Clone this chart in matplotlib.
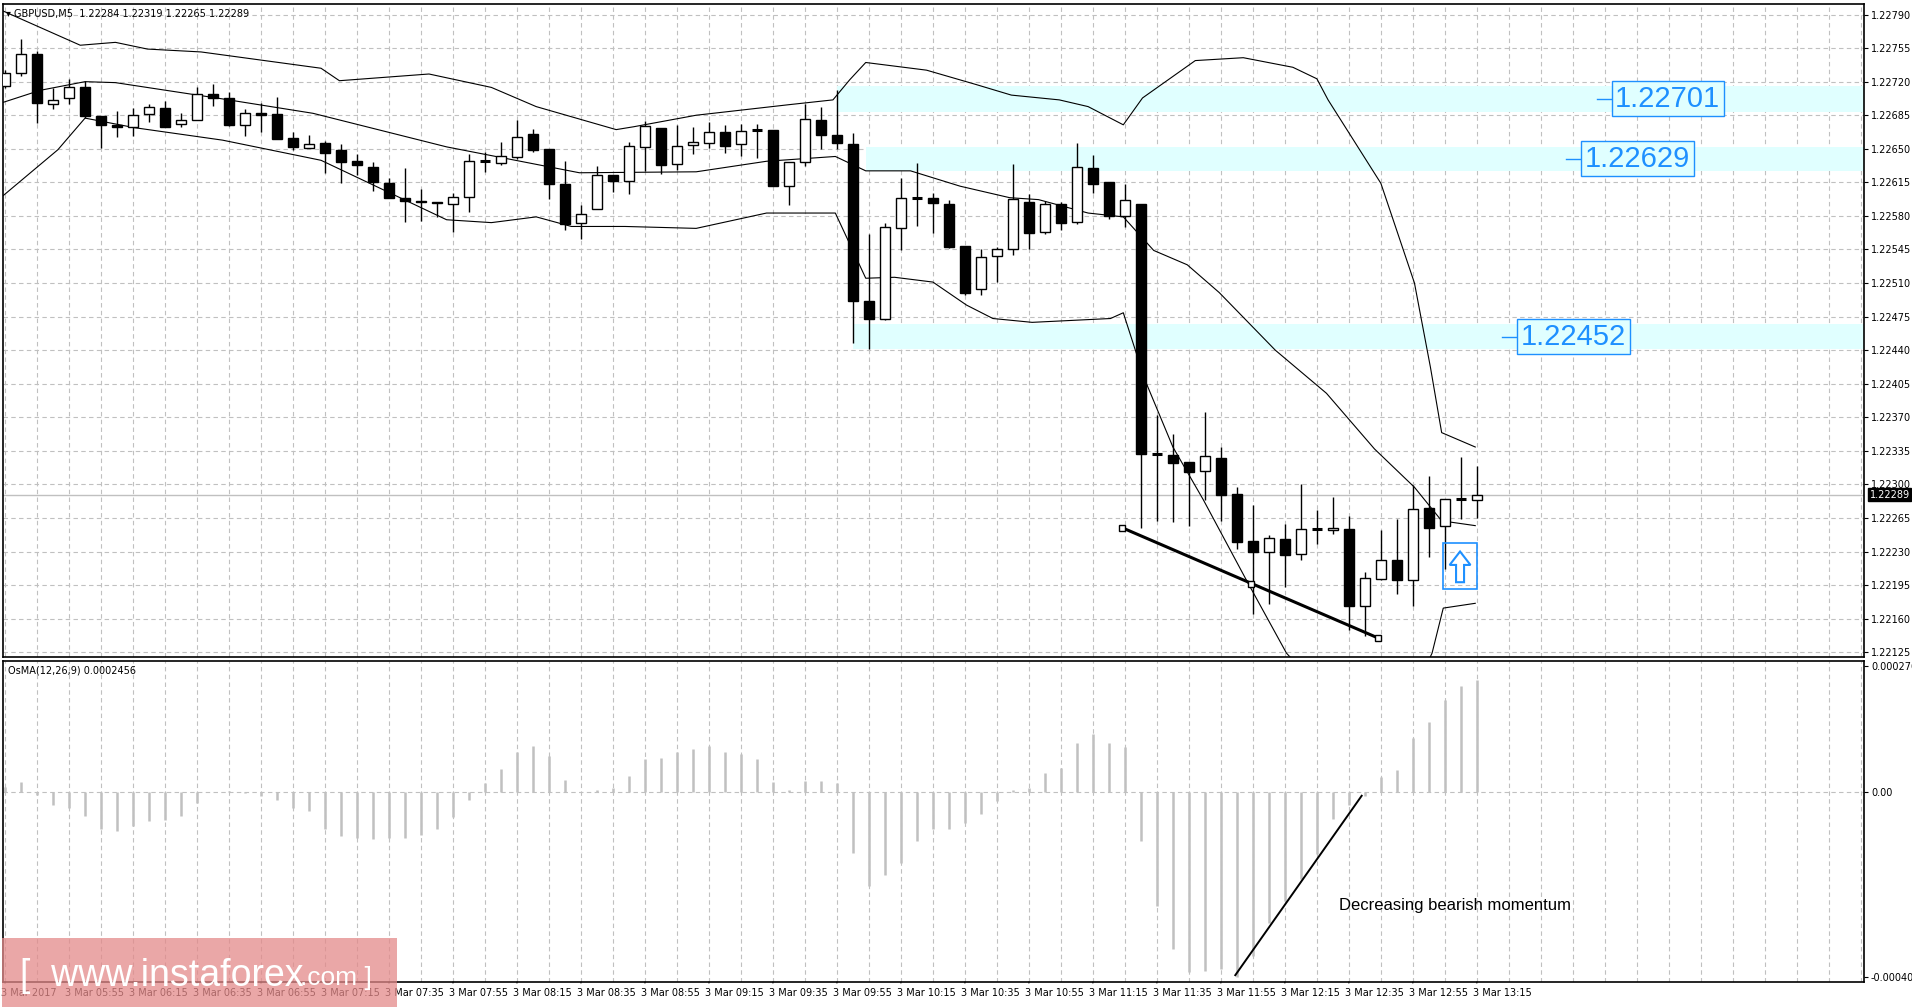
import numpy as np
import matplotlib
matplotlib.use("Agg")
import matplotlib.pyplot as plt
from matplotlib.patches import Rectangle, FancyArrow

# ---- candles (GBPUSD M5) ----
opens = [1.22715, 1.22729, 1.22749, 1.22697, 1.22703, 1.22714, 1.22684, 1.22675, 1.22673, 1.22686,
         1.22693, 1.22676, 1.22680, 1.22707, 1.22703, 1.22675, 1.22687, 1.22686, 1.22661, 1.22651,
         1.22656, 1.22649, 1.22637, 1.22631, 1.22614, 1.22599, 1.22596, 1.22595, 1.22592, 1.22600,
         1.22637, 1.22635, 1.22641, 1.22665, 1.22650, 1.22613, 1.22573, 1.22587, 1.22623, 1.22616,
         1.22652, 1.22672, 1.22634, 1.22654, 1.22656, 1.22667, 1.22655, 1.22670, 1.22670, 1.22611,
         1.22636, 1.22680, 1.22664, 1.22655, 1.22491, 1.22473, 1.22567, 1.22599, 1.22599, 1.22592,
         1.22549, 1.22504, 1.22538, 1.22545, 1.22595, 1.22563, 1.22592, 1.22574, 1.22630, 1.22615,
         1.22580, 1.22592, 1.22332, 1.22331, 1.22323, 1.22314, 1.22328, 1.22290, 1.22241, 1.22230,
         1.22243, 1.22227, 1.22253, 1.22252, 1.22254, 1.22173, 1.22201, 1.22221, 1.22200, 1.22275,
         1.22257, 1.22285, 1.22284]
highs = [1.22732, 1.22764, 1.22752, 1.22713, 1.22723, 1.22721, 1.22684, 1.22689, 1.22693, 1.22697,
         1.22700, 1.22687, 1.22714, 1.22718, 1.22709, 1.22691, 1.22698, 1.22704, 1.22667, 1.22664,
         1.22658, 1.22655, 1.22645, 1.22636, 1.22620, 1.22630, 1.22608, 1.22595, 1.22604, 1.22645,
         1.22647, 1.22657, 1.22680, 1.22671, 1.22650, 1.22637, 1.22591, 1.22632, 1.22623, 1.22657,
         1.22679, 1.22672, 1.22675, 1.22673, 1.22678, 1.22675, 1.22676, 1.22676, 1.22670, 1.22636,
         1.22697, 1.22694, 1.22711, 1.22666, 1.22561, 1.22573, 1.22620, 1.22635, 1.22604, 1.22597,
         1.22549, 1.22546, 1.22548, 1.22634, 1.22603, 1.22596, 1.22595, 1.22656, 1.22644, 1.22615,
         1.22613, 1.22592, 1.22372, 1.22353, 1.22323, 1.22376, 1.22339, 1.22297, 1.22279, 1.22247,
         1.22259, 1.22300, 1.22273, 1.22287, 1.22267, 1.22209, 1.22252, 1.22264, 1.22299, 1.22309,
         1.22285, 1.22329, 1.22319]
lows = [1.22713, 1.22726, 1.22677, 1.22691, 1.22697, 1.22682, 1.22651, 1.22662, 1.22663, 1.22678,
        1.22673, 1.22673, 1.22680, 1.22695, 1.22674, 1.22663, 1.22668, 1.22660, 1.22649, 1.22651,
        1.22625, 1.22614, 1.22623, 1.22606, 1.22599, 1.22574, 1.22575, 1.22579, 1.22563, 1.22584,
        1.22626, 1.22633, 1.22639, 1.22647, 1.22598, 1.22565, 1.22556, 1.22587, 1.22605, 1.22603,
        1.22627, 1.22624, 1.22628, 1.22645, 1.22651, 1.22646, 1.22642, 1.22640, 1.22611, 1.22591,
        1.22632, 1.22650, 1.22650, 1.22447, 1.22441, 1.22471, 1.22544, 1.22569, 1.22562, 1.22547,
        1.22498, 1.22498, 1.22511, 1.22539, 1.22545, 1.22561, 1.22565, 1.22572, 1.22604, 1.22577,
        1.22568, 1.22255, 1.22262, 1.22261, 1.22257, 1.22284, 1.22262, 1.22233, 1.22165, 1.22175,
        1.22193, 1.22221, 1.22238, 1.22248, 1.22148, 1.22142, 1.22200, 1.22186, 1.22173, 1.22224,
        1.22212, 1.22264, 1.22265]
closes = [1.22729, 1.22749, 1.22698, 1.22701, 1.22714, 1.22684, 1.22675, 1.22673, 1.22685, 1.22694,
          1.22673, 1.22680, 1.22707, 1.22703, 1.22675, 1.22687, 1.22685, 1.22660, 1.22652, 1.22655,
          1.22646, 1.22636, 1.22633, 1.22615, 1.22599, 1.22596, 1.22594, 1.22593, 1.22600, 1.22637,
          1.22637, 1.22642, 1.22662, 1.22649, 1.22613, 1.22572, 1.22582, 1.22623, 1.22616, 1.22653,
          1.22674, 1.22633, 1.22653, 1.22657, 1.22667, 1.22653, 1.22669, 1.22670, 1.22611, 1.22636,
          1.22681, 1.22664, 1.22656, 1.22491, 1.22473, 1.22568, 1.22599, 1.22599, 1.22593, 1.22548,
          1.22500, 1.22537, 1.22545, 1.22598, 1.22562, 1.22592, 1.22573, 1.22631, 1.22613, 1.22580,
          1.22597, 1.22332, 1.22332, 1.22322, 1.22313, 1.22330, 1.22289, 1.22240, 1.22230, 1.22244,
          1.22226, 1.22254, 1.22253, 1.22255, 1.22173, 1.22202, 1.22221, 1.22200, 1.22274, 1.22255,
          1.22285, 1.22284, 1.22289]

# ---- Bollinger bands (read as polylines) ----
upper_x = [-0.3, 4.7, 6.9, 8.9, 12.25, 19.75, 20.9, 26.5, 30.4, 33.2, 38.2, 39.3, 43.2, 49.0, 51.75,
           52.8, 53.8, 57.6, 60.7, 62.9, 65.9, 67.7, 69.9, 71.1, 74.4, 77.4, 80.5, 82.0, 82.7, 86.0,
           88.1, 89.1, 89.8, 91.9]
upper_y = [1.22795, 1.22758, 1.22761, 1.22754, 1.22751, 1.22734, 1.22721, 1.22728, 1.22714, 1.22694,
           1.22670, 1.22673, 1.22685, 1.22696, 1.22701, 1.22722, 1.22740, 1.22732, 1.22717, 1.22706,
           1.22701, 1.22694, 1.22675, 1.22703, 1.22742, 1.22745, 1.22735, 1.22723, 1.22701, 1.22614,
           1.22510, 1.22422, 1.22354, 1.22339]
middle_x = [-0.2, 2.2, 5.0, 6.9, 13.6, 19.25, 27.6, 35.9, 43.2, 47.6, 51.9, 53.8, 56.6, 59.7, 62.8,
            64.6, 67.7, 69.9, 71.8, 73.9, 75.9, 79.4, 82.6, 85.6, 88.1, 89.8, 91.9]
middle_y = [1.22698, 1.22711, 1.22720, 1.22719, 1.22702, 1.22687, 1.22652, 1.22625, 1.22626, 1.22637,
            1.22642, 1.22627, 1.22627, 1.22611, 1.22599, 1.22597, 1.22583, 1.22579, 1.22544, 1.22529,
            1.22500, 1.22440, 1.22395, 1.22337, 1.22297, 1.22262, 1.22257]
lower_x = [-0.2, 3.3, 5.0, 8.1, 13.6, 19.75, 27.6, 30.4, 33.2, 35.4, 38.75, 43.2, 47.6, 51.9, 53.8,
           55.6, 58.0, 60.1, 61.75, 64.2, 69.1, 69.9, 71.25, 73.0, 74.9, 77.6, 80.1, 84.0, 87.8, 89.2,
           89.9, 91.9]
lower_y = [1.22600, 1.22649, 1.22682, 1.22672, 1.22659, 1.22638, 1.22576, 1.22573, 1.22579, 1.22569,
           1.22569, 1.22567, 1.22583, 1.22583, 1.22515, 1.22516, 1.22511, 1.22487, 1.22473, 1.22469,
           1.22473, 1.22479, 1.22409, 1.22339, 1.22284, 1.22200, 1.22124, 1.22054, 1.22075, 1.22124,
           1.22171, 1.22176]

# ---- OsMA(12,26,9), units of 1e-6 ----
osma = [11, 23, -6, -28, -35, -53, -80, -85, -75, -64,
        -61, -53, -24, 0, 3, -3, -8, -18, -35, -42,
        -80, -96, -100, -102, -100, -100, -94, -80, -55, -18,
        20, 50, 89, 102, 80, 27, 0, 4, 9, 36,
        73, 75, 88, 95, 102, 88, 83, 73, 22, 5,
        25, 25, 20, -134, -206, -182, -155, -107, -80, -80,
        -67, -48, -20, 5, 9, 42, 53, 108, 127, 108,
        100, -107, -250, -344, -395, -393, -388, -406, -360, -287,
        -240, -190, -135, -60, -29, -8, 34, 49, 119, 155,
        203, 234, 246]

zone_lo = [1.22688, 1.22627, 1.22441]
zone_hi = [1.22716, 1.22652, 1.22467]
zone_start = [52.0, 53.8, 53.0]
zone_labels = ["1.22701", "1.22629", "1.22452"]
zone_label_x = [100.5, 98.6, 94.6]
time_labels = ["3 Mar 2017"] + ["3 Mar %02d:%02d" % divmod(5 * 60 + 55 + 20 * k, 60) for k in range(23)]

price_ticks = [1.22790, 1.22755, 1.22720, 1.22685, 1.22650, 1.22615, 1.22580, 1.22545, 1.22510,
               1.22475, 1.22440, 1.22405, 1.22370, 1.22335, 1.22300, 1.22265, 1.22230, 1.22195,
               1.22160, 1.22125]

W, H = 1912, 1007
fig = plt.figure(figsize=(W / 100, H / 100), dpi=100)
plt.rcParams['font.family'] = ['DejaVu Sans']
XL, XR = -0.16, 116.2
left, width = 2.5 / W, (1864 - 2.5) / W
ax = fig.add_axes([left, 1 - 657 / H, width, 653 / H])
ax2 = fig.add_axes([left, 1 - 982 / H, width, 321 / H])
grid_kw = dict(color="#c0c0c0", linestyle=(0, (4, 3)), linewidth=0.8, zorder=0)

n = len(closes)
idx = np.arange(n)
for a in (ax, ax2):
    a.set_xlim(XL, XR)
    for g in range(0, 117, 2):
        a.axvline(g, **grid_kw)
    for s in a.spines.values():
        s.set_linewidth(1.2)
    a.tick_params(axis="y", which="both", left=False, right=True, labelleft=False,
                  labelright=True, labelsize=7, length=3, pad=2)
    a.set_xticks([])

ax.set_ylim(1.22120, 1.22801)
for p in price_ticks:
    ax.axhline(p, **grid_kw)
ax.set_yticks(price_ticks)
ax.set_yticklabels(["%.5f" % p for p in price_ticks])

for lo, hi, x0 in zip(zone_lo, zone_hi, zone_start):
    ax.fill_between([x0, XR], lo, hi, color="#e0ffff", zorder=0.5, linewidth=0)

ax.axhline(closes[-1], color="#c0c0c0", linewidth=1, zorder=1)
ax.plot(upper_x, upper_y, color="black", linewidth=0.8, zorder=2)
ax.plot(middle_x, middle_y, color="black", linewidth=0.8, zorder=2)
ax.plot(lower_x, lower_y, color="black", linewidth=0.8, zorder=2)

bw = 0.62
for i in idx:
    o, h, l, c = opens[i], highs[i], lows[i], closes[i]
    ax.vlines(i, l, h, color="black", linewidth=1, zorder=3)
    bot, top = min(o, c), max(o, c)
    if top - bot < 0.000015:
        ax.hlines((o + c) / 2, i - bw / 2, i + bw / 2, color="black", linewidth=2.2, zorder=4)
    else:
        ax.add_patch(Rectangle((i - bw / 2, bot), bw, top - bot,
                               facecolor="black" if c < o else "white",
                               edgecolor="black", linewidth=1, zorder=4))

# trendline on price
ax.plot([69.8, 85.8], [1.22255, 1.22140], color="black", linewidth=2.2, zorder=5)
ax.plot([69.8, 77.9, 85.8], [1.22255, 1.22196, 1.22140], linestyle="none", marker="s",
        markersize=4, markerfacecolor="white", markeredgecolor="black", zorder=6)

# level labels
for lo, hi, lab, xb in zip(zone_lo, zone_hi, zone_labels, zone_label_x):
    yc = (lo + hi) / 2
    ax.plot([xb - 1.0, xb], [yc, yc], color="#1e90ff", linewidth=1, zorder=7)
    ax.text(xb + 0.15, yc, lab, fontsize=21, color="#1e90ff", va="center", ha="left",
            family="Liberation Sans", zorder=7,
            bbox=dict(boxstyle="square,pad=0.12", facecolor="#e0ffff", edgecolor="#1e90ff", linewidth=1))

# arrow signal box
ax.add_patch(Rectangle((89.9, 1.22191), 2.1, 0.00048, facecolor="none", edgecolor="#1e90ff",
                       linewidth=1.2, zorder=7))
ax.add_patch(FancyArrow(90.95, 1.22198, 0, 0.00032, width=0.5, head_width=1.3, head_length=0.00014,
                        length_includes_head=True, facecolor="white", edgecolor="#1e90ff",
                        linewidth=1.5, zorder=8))

# current price tag
ax.annotate("%.5f" % closes[-1], xy=(1.0, closes[-1]), xycoords=("axes fraction", "data"),
            xytext=(4, 0), textcoords="offset points", fontsize=7, color="white", va="center",
            bbox=dict(boxstyle="square,pad=0.15", facecolor="black", edgecolor="black"),
            annotation_clip=False)

ax.text(0.002, 0.993, "\u25be GBPUSD,M5  1.22284 1.22319 1.22265 1.22289", transform=ax.transAxes,
        fontsize=7, va="top", ha="left")

# OsMA panel
ax2.set_ylim(-417e-6, 288e-6)
ax2.axhline(0, **grid_kw)
ax2.vlines(idx, 0, np.array(osma) * 1e-6, color="#c0c0c0", linewidth=1.8, zorder=2)
ax2.plot([76.9, 84.8], [-402e-6, -8e-6], color="black", linewidth=1.4, zorder=3)
ax2.set_yticks([276e-6, 0, -405e-6])
ax2.set_yticklabels(["0.000276", "0.00", "-0.000405"])
ax2.text(0.003, 0.985, "OsMA(12,26,9) 0.0002456", transform=ax2.transAxes, fontsize=7,
         va="top", ha="left")
ax2.text(83.4, -250e-6, "Decreasing bearish momentum", fontsize=12, family="Liberation Sans",
         va="center", ha="left")

# time axis labels
for k, lab in enumerate(time_labels):
    xi = 4 * k
    ax2.annotate(lab, xy=(xi, 0), xycoords=("data", "axes fraction"), xytext=(-3, -4),
                 textcoords="offset points", fontsize=7, va="top", ha="left", annotation_clip=False)
    ax2.annotate("", xy=(xi, 0), xycoords=("data", "axes fraction"), xytext=(xi, -0.012),
                 textcoords=("data", "axes fraction"),
                 arrowprops=dict(arrowstyle="-", color="black", linewidth=0.8), annotation_clip=False)

# watermark
fig.patches.append(Rectangle((2 / W, 0), 395 / W, 69 / H, transform=fig.transFigure,
                             facecolor="#e48a8a", alpha=0.75, edgecolor="none", zorder=10))
fig.text(20 / W, 31 / H, "[  www.instaforex", fontsize=27, color="white", family="Liberation Sans",
         va="center", ha="left", zorder=11)
fig.text(300 / W, 29 / H, ".com ]", fontsize=19, color="white", family="Liberation Sans",
         va="center", ha="left", zorder=11)

fig.savefig("out.png", dpi=100)
